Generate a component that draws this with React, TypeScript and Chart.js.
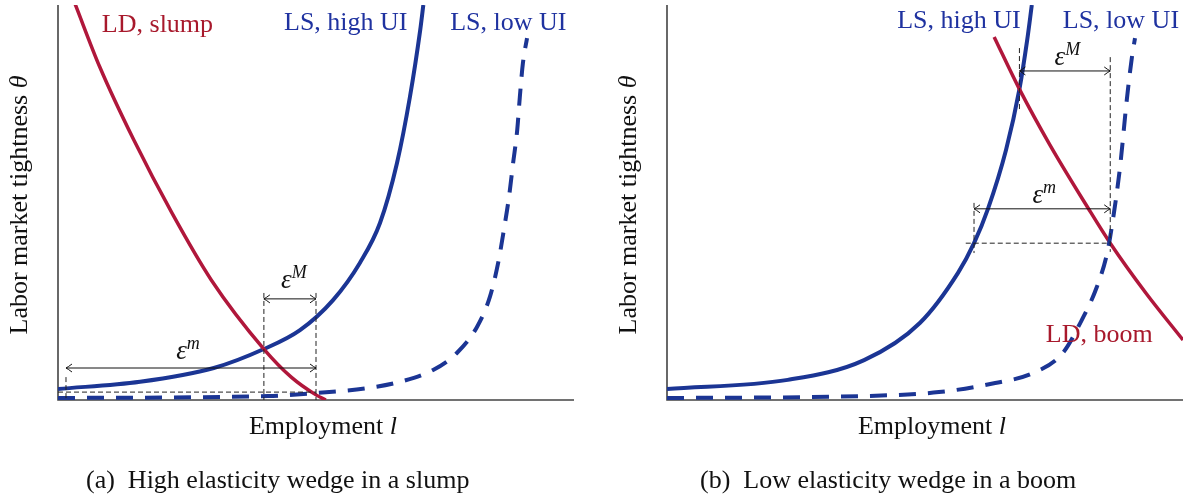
import React, { useEffect, useRef } from "react";
import { Chart, registerables } from "chart.js";

Chart.register(...registerables);

const FONT = '"Liberation Serif", "Times New Roman", serif';
const BLUE = "#1b3594";
const RED = "#b0173b";
const BLUE_TEXT = "#1f32a0";
const RED_TEXT = "#a8192c";
const INK = "#111111";

// ---------- Panel (a): High elasticity wedge in a slump ----------
const A_LS_HIGH_X = [0, 15.9, 30.2, 39.9, 46.9, 53.3, 58.5, 62.4, 65.7, 68.2, 70.2, 70.8];
const A_LS_HIGH_Y = [2.8, 4.6, 8.1, 12.9, 17.7, 25.3, 34.7, 44.8, 60.0, 76.7, 93.7, 100];
const A_LS_LOW_X = [0, 40.7, 50.2, 59.9, 66.3, 72.7, 77.3, 81.2, 83.7, 85.3, 86.4, 87.4, 88.2, 89.0, 89.5, 90.1, 90.9];
const A_LS_LOW_Y = [0.5, 1.0, 1.8, 3.0, 4.6, 7.6, 11.9, 18.5, 26.1, 34.7, 43.0, 51.4, 60.0, 68.4, 76.7, 85.3, 91.6];
const A_LD_X = [3.3, 8.1, 14.7, 22.1, 29.7, 39.9, 45.2, 50.0, 51.9];
const A_LD_Y = [100.3, 84.3, 65.8, 47.3, 30.4, 12.9, 5.8, 1.3, 0];
// dashed guides: [x1, y1, x2, y2]
const A_GUIDES = [
  [39.9, 27.1, 39.9, 0],
  [50.0, 27.1, 50.0, 0],
  [1.55, 5.8, 1.55, 0],
  [0, 2.0, 50.0, 2.0],
];
// wedge arrows
const A_ARROW_FROM = [39.9, 1.55];
const A_ARROW_TO = [50.0, 50.0];
const A_ARROW_Y = [25.6, 8.1];
const A_ARROW_SUP = ["M", "m"];
const A_ARROW_LABEL_X = [45.7, 25.2];
const A_ARROW_LABEL_Y = [28.4, 10.4];
// curve labels
const A_LABELS = ["LD, slump", "LS, high UI", "LS, low UI"];
const A_LABEL_X = [8.5, 43.8, 76.0];
const A_LABEL_Y = [93.2, 93.7, 93.7];
const A_LABEL_RED = [true, false, false];
const A_CAPTION = ["(a)", "High elasticity wedge in a slump"];

// ---------- Panel (b): Low elasticity wedge in a boom ----------
const B_LS_HIGH_X = [0, 23.4, 38.2, 49.0, 56.4, 59.5, 62.2, 65.7, 68.3, 69.8, 70.7];
const B_LS_HIGH_Y = [2.8, 5.1, 10.1, 19.5, 32.2, 39.7, 48.4, 63.3, 78.7, 91.1, 100];
const B_LS_LOW_X = [0, 38.2, 52.7, 63.6, 70.9, 76.7, 80.4, 83.3, 85.3, 86.2, 87.8, 89.1, 90.1, 90.7];
const B_LS_LOW_Y = [0.5, 1.0, 2.0, 4.3, 6.8, 11.9, 20.3, 28.6, 37.2, 43.8, 59.0, 75.9, 86.8, 91.6];
const B_LD_X = [63.4, 68.3, 74.2, 81.6, 85.9, 92.8, 100];
const B_LD_Y = [91.9, 78.7, 64.6, 48.6, 39.7, 27.1, 15.2];
const B_GUIDES = [
  [68.3, 89.1, 68.3, 73.4],
  [85.9, 86.8, 85.9, 37.5],
  [59.5, 49.9, 59.5, 37.2],
  [57.9, 39.7, 85.9, 39.7],
];
const B_ARROW_FROM = [68.3, 59.5];
const B_ARROW_TO = [85.9, 85.9];
const B_ARROW_Y = [83.3, 48.4];
const B_ARROW_SUP = ["M", "m"];
const B_ARROW_LABEL_X = [77.6, 73.1];
const B_ARROW_LABEL_Y = [84.8, 49.9];
const B_LABELS = ["LS, high UI", "LS, low UI", "LD, boom"];
const B_LABEL_X = [44.6, 76.7, 73.4];
const B_LABEL_Y = [94.2, 94.2, 14.7];
const B_LABEL_RED = [false, false, true];
const B_CAPTION = ["(b)", "Low elasticity wedge in a boom"];

const X_TITLE = ["Employment ", "l"];
const Y_TITLE = ["Labor market tightness ", "\u03b8"];

type Seg = { t: string; italic?: boolean; size?: number; dy?: number };

function segFont(s: Seg) {
  return `${s.italic ? "italic " : ""}${s.size ?? 26}px ${FONT}`;
}

function drawSegs(ctx: CanvasRenderingContext2D, segs: Seg[], x: number, y: number, align: "left" | "center", color: string) {
  const widths = segs.map((s) => {
    ctx.font = segFont(s);
    return ctx.measureText(s.t).width;
  });
  const total = widths.reduce((a, b) => a + b, 0);
  let cx = align === "center" ? x - total / 2 : x;
  ctx.textAlign = "left";
  ctx.textBaseline = "alphabetic";
  ctx.fillStyle = color;
  segs.forEach((s, i) => {
    ctx.font = segFont(s);
    ctx.fillText(s.t, cx, y + (s.dy ?? 0));
    cx += widths[i];
  });
}

function arrowHead(ctx: CanvasRenderingContext2D, tx: number, y: number, d: number) {
  ctx.beginPath();
  ctx.moveTo(tx - d * 6, y - 4);
  ctx.quadraticCurveTo(tx - d * 2, y - 1, tx, y);
  ctx.quadraticCurveTo(tx - d * 2, y + 1, tx - d * 6, y + 4);
  ctx.stroke();
}

type Panel = {
  lsHighX: number[]; lsHighY: number[];
  lsLowX: number[]; lsLowY: number[];
  ldX: number[]; ldY: number[];
  guides: number[][];
  arrowFrom: number[]; arrowTo: number[]; arrowY: number[]; arrowSup: string[];
  arrowLabelX: number[]; arrowLabelY: number[];
  labels: string[]; labelX: number[]; labelY: number[]; labelRed: boolean[];
  caption: string[];
  captionX: number;
  padLeft: number; padRight: number;
};

const PANEL_A: Panel = {
  lsHighX: A_LS_HIGH_X, lsHighY: A_LS_HIGH_Y, lsLowX: A_LS_LOW_X, lsLowY: A_LS_LOW_Y,
  ldX: A_LD_X, ldY: A_LD_Y, guides: A_GUIDES,
  arrowFrom: A_ARROW_FROM, arrowTo: A_ARROW_TO, arrowY: A_ARROW_Y, arrowSup: A_ARROW_SUP,
  arrowLabelX: A_ARROW_LABEL_X, arrowLabelY: A_ARROW_LABEL_Y,
  labels: A_LABELS, labelX: A_LABEL_X, labelY: A_LABEL_Y, labelRed: A_LABEL_RED,
  caption: A_CAPTION, captionX: 86, padLeft: 58, padRight: 21,
};

const PANEL_B: Panel = {
  lsHighX: B_LS_HIGH_X, lsHighY: B_LS_HIGH_Y, lsLowX: B_LS_LOW_X, lsLowY: B_LS_LOW_Y,
  ldX: B_LD_X, ldY: B_LD_Y, guides: B_GUIDES,
  arrowFrom: B_ARROW_FROM, arrowTo: B_ARROW_TO, arrowY: B_ARROW_Y, arrowSup: B_ARROW_SUP,
  arrowLabelX: B_ARROW_LABEL_X, arrowLabelY: B_ARROW_LABEL_Y,
  labels: B_LABELS, labelX: B_LABEL_X, labelY: B_LABEL_Y, labelRed: B_LABEL_RED,
  caption: B_CAPTION, captionX: 105, padLeft: 72, padRight: 7,
};

function pts(xs: number[], ys: number[]) {
  return xs.map((x, i) => ({ x, y: ys[i] }));
}

function makePlugin(p: Panel) {
  return {
    id: "panelDecor",
    beforeDatasetsDraw(chart: any) {
      const { ctx, chartArea: a } = chart;
      ctx.save();
      ctx.strokeStyle = "#444444";
      ctx.lineWidth = 1.6;
      ctx.beginPath();
      ctx.moveTo(a.left, a.top);
      ctx.lineTo(a.left, a.bottom);
      ctx.lineTo(a.right, a.bottom);
      ctx.stroke();
      ctx.restore();
    },
    afterDatasetsDraw(chart: any) {
      const { ctx } = chart;
      const xs = chart.scales.x;
      const ys = chart.scales.y;
      const X = (v: number) => xs.getPixelForValue(v);
      const Y = (v: number) => ys.getPixelForValue(v);
      ctx.save();
      // guides
      ctx.strokeStyle = "#222222";
      ctx.lineWidth = 1;
      ctx.setLineDash([5, 3]);
      p.guides.forEach((g) => {
        ctx.beginPath();
        ctx.moveTo(X(g[0]), Y(g[1]));
        ctx.lineTo(X(g[2]), Y(g[3]));
        ctx.stroke();
      });
      ctx.setLineDash([]);
      // arrows
      p.arrowY.forEach((yv, i) => {
        const x1 = X(p.arrowFrom[i]);
        const x2 = X(p.arrowTo[i]);
        const y = Y(yv);
        ctx.strokeStyle = INK;
        ctx.lineWidth = 1;
        ctx.beginPath();
        ctx.moveTo(x1, y);
        ctx.lineTo(x2, y);
        ctx.stroke();
        arrowHead(ctx, x1, y, -1);
        arrowHead(ctx, x2, y, 1);
        drawSegs(
          ctx,
          [
            { t: "\u03b5", italic: true, size: 27 },
            { t: p.arrowSup[i], italic: true, size: 18, dy: -10 },
          ],
          X(p.arrowLabelX[i]),
          Y(p.arrowLabelY[i]),
          "center",
          INK
        );
      });
      // curve labels
      p.labels.forEach((t, i) => {
        drawSegs(ctx, [{ t }], X(p.labelX[i]), Y(p.labelY[i]), "left", p.labelRed[i] ? RED_TEXT : BLUE_TEXT);
      });
      ctx.restore();
    },
    afterDraw(chart: any) {
      const { ctx, chartArea: a } = chart;
      ctx.save();
      drawSegs(ctx, [{ t: X_TITLE[0] }, { t: X_TITLE[1], italic: true }], (a.left + a.right) / 2 + 7, 434, "center", INK);
      ctx.translate(a.left - 31, 205);
      ctx.rotate(-Math.PI / 2);
      drawSegs(ctx, [{ t: Y_TITLE[0] }, { t: Y_TITLE[1], italic: true }], 0, 0, "center", INK);
      ctx.restore();
      ctx.save();
      drawSegs(ctx, [{ t: p.caption[0] }, { t: "  " + p.caption[1] }], p.captionX, 488, "left", INK);
      ctx.restore();
    },
  };
}

function PanelChart({ panel, left }: { panel: Panel; left: number }) {
  const ref = useRef<HTMLCanvasElement | null>(null);
  useEffect(() => {
    if (!ref.current) return;
    const chart = new Chart(ref.current, {
      type: "line",
      data: {
        datasets: [
          {
            data: pts(panel.lsLowX, panel.lsLowY),
            borderColor: BLUE,
            borderWidth: 4,
            borderDash: [17, 12],
            pointRadius: 0,
            cubicInterpolationMode: "monotone",
            fill: false,
          },
          {
            data: pts(panel.ldX, panel.ldY),
            borderColor: RED,
            borderWidth: 3.5,
            pointRadius: 0,
            cubicInterpolationMode: "monotone",
            fill: false,
          },
          {
            data: pts(panel.lsHighX, panel.lsHighY),
            borderColor: BLUE,
            borderWidth: 4,
            pointRadius: 0,
            cubicInterpolationMode: "monotone",
            fill: false,
          },
        ],
      } as any,
      options: {
        responsive: false,
        animation: false,
        devicePixelRatio: 1,
        events: [],
        layout: { padding: { left: panel.padLeft, right: panel.padRight, top: 5, bottom: 100 } },
        scales: {
          x: { type: "linear", min: 0, max: 100, display: false },
          y: { type: "linear", min: 0, max: 100, display: false },
        },
        plugins: { legend: { display: false }, tooltip: { enabled: false }, title: { display: false } },
      } as any,
      plugins: [makePlugin(panel)],
    });
    return () => chart.destroy();
  }, [panel]);
  return (
    <canvas
      ref={ref}
      width={595}
      height={500}
      style={{ position: "absolute", left, top: 0, width: 595, height: 500 }}
    />
  );
}

export default function App() {
  return (
    <div style={{ position: "absolute", left: 0, top: 0, width: 1190, height: 500, background: "#ffffff" }}>
      <PanelChart panel={PANEL_A} left={0} />
      <PanelChart panel={PANEL_B} left={595} />
    </div>
  );
}
